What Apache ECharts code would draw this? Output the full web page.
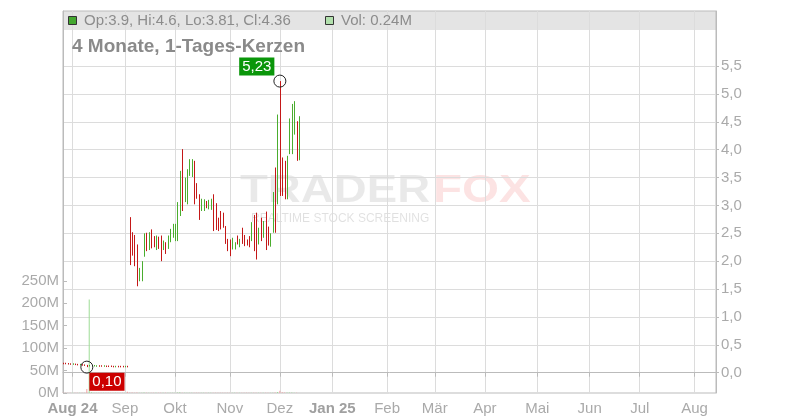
<!DOCTYPE html>
<html><head><meta charset="utf-8">
<script src="https://cdn.jsdelivr.net/npm/echarts@6/dist/echarts.min.js"></script>
<style>html,body{margin:0;padding:0;background:#fff}#c{width:800px;height:420px}</style>
</head><body><div id="c"></div>
<script>
// ---------- data ----------
const histStart = '2024-07-26';   // first candle (weekdays follow sequentially)
const axisEnd = '2025-08-14';     // last weekday shown on the axis
const highs = [
 .17,.17,.165,.16,.16,.155,.15,.15,.145,.14,.14,.13,.13,.13,.125,.125,.125,.125,.12,.12,.12,.115,.115,.115,.115,.115,.115,.115,
 2.79,2.52,2.47,2.30,1.88,2.00,2.50,2.51,2.52,2.57,2.45,2.46,2.44,2.46,2.37,2.34,2.46,2.58,2.67,2.67,
 3.06,3.62,4.01,3.50,3.65,3.83,3.83,3.80,3.40,3.20,3.12,3.11,3.08,3.10,3.12,3.20,3.04,2.78,2.90,2.87,2.63,2.40,2.39,
 2.42,2.34,2.46,2.40,2.60,2.47,2.39,2.45,2.70,2.83,2.87,2.60,2.78,2.72,2.89,2.62,2.50,3.24,3.68,4.63,
 5.23,3.86,3.80,3.89,4.56,4.82,4.87,4.51,4.60];
const lows = [
 .16,.16,.155,.15,.15,.145,.14,.14,.135,.13,.10,.12,.12,.12,.115,.115,.115,.115,.11,.11,.11,.105,.105,.105,.105,.105,.105,.105,
 1.93,2.10,1.91,1.55,1.64,1.64,2.08,2.18,2.20,2.23,2.25,2.20,2.22,2.00,2.20,2.13,2.22,2.34,2.42,2.36,
 2.36,2.81,2.90,3.06,3.02,3.53,3.51,3.02,3.12,2.74,2.90,2.90,2.95,2.93,2.92,2.54,2.56,2.54,2.57,2.60,2.31,2.18,2.09,
 2.21,2.21,2.30,2.25,2.31,2.27,2.28,2.25,2.36,2.18,2.03,2.30,2.36,2.42,2.20,2.28,2.26,2.51,2.51,3.02,
 3.17,3.17,3.11,3.11,3.92,3.92,4.27,3.80,3.81];
// 1 = rising candle (green), 0 = falling candle (red)
const rising = [
 0,0,0,0,1,0,0,1,0,0,0,1,1,1,1,0,0,1,0,0,0,0,1,0,0,0,1,0,
 0,0,0,0,1,1,1,0,1,0,0,1,0,0,1,0,1,1,1,1,
 1,1,0,1,1,1,1,0,0,0,1,1,0,1,1,0,0,0,0,0,0,0,0,
 1,1,0,1,0,0,0,0,1,0,0,1,0,1,0,0,1,1,0,1,
 0,0,0,1,1,1,1,0,1];
// volumes in millions
const volumes = [
 .6,.5,.4,.5,.4,.5,.6,.5,.4,.6,9,208,1.5,.8,.6,.5,.5,.4,.5,.4,.4,.5,.4,.4,.5,.4,.6,3,
 1.2,.9,.8,.9,.6,.7,.9,.6,.5,.6,.5,.5,.6,.4,.5,.5,.6,.6,.5,.8,
 1.2,1.5,.8,.7,.6,.5,.8,.6,.7,.4,.5,.5,.5,.5,.5,.5,.4,.3,.4,.6,.5,.4,.4,
 .4,.5,.5,.5,.4,.3,.4,.5,.4,.3,.5,.6,.7,.5,.4,.6,.4,.8,1.2,2.5,
 5,1.5,1.0,.9,1.1,.9,.7,.5,.24];
const lastOpen = 3.9, lastClose = 4.36;
const monthNames = ['Jan','Feb','Mär','Apr','Mai','Jun','Jul','Aug','Sep','Okt','Nov','Dez'];
const priceTicks = [0,0.5,1,1.5,2,2.5,3,3.5,4,4.5,5,5.5];
const volumeTicks = [0,50,100,150,200,250];
const titleText = '4 Monate, 1-Tages-Kerzen';

// ---------- build ----------
function weekdays(a, b) {
  const out = [];
  let d = new Date(a + 'T00:00:00Z');
  const e = new Date(b + 'T00:00:00Z');
  while (d <= e) {
    const w = d.getUTCDay();
    if (w !== 0 && w !== 6) out.push(d.toISOString().slice(0, 10));
    d = new Date(d.getTime() + 86400000);
  }
  return out;
}
const cats = weekdays(histStart, axisEnd);
const n = highs.length;
const candles = [], vols = [];
for (let i = 0; i < n; i++) {
  const h = highs[i], l = lows[i], r = (h - l);
  let o, c;
  if (i === n - 1) { o = lastOpen; c = lastClose; }
  else if (rising[i]) { o = l + r * 0.2; c = h - r * 0.2; }
  else { o = h - r * 0.2; c = l + r * 0.2; }
  candles.push([i, +o.toFixed(3), +c.toFixed(3), l, h]);
  vols.push({ value: volumes[i], itemStyle: { color: rising[i] ? '#9ddc95' : '#f2a0a0' } });
}
const isMonthStart = (i) => i > 0 && cats[i].slice(5, 7) !== cats[i - 1].slice(5, 7);
const fmtPrice = (v) => v.toFixed(1).replace('.', ',');
const fmtPrice2 = (v) => (+v).toFixed(2).replace('.', ',');
const last = n - 1;
const legendText = 'Op:' + lastOpen + ', Hi:' + highs[last] + ', Lo:' + lows[last] + ', Cl:' + lastClose;
const volText = 'Vol: ' + volumes[last] + 'M';
const UP = '#4aad2e', DOWN = '#c41818';

function renderCandle(params, api) {
  const xi = api.value(0);
  const top = api.coord([xi, api.value(4)]);
  const bot = api.coord([xi, api.value(3)]);
  const x = Math.round(top[0]) + 0.5;
  let y1 = top[1], y2 = bot[1];
  if (y2 - y1 < 1.5) { const m = (y1 + y2) / 2; y1 = m - 0.75; y2 = m + 0.75; }
  const up = api.value(2) >= api.value(1);
  return { type: 'line', shape: { x1: x, y1: y1, x2: x, y2: y2 }, style: { stroke: up ? UP : DOWN, lineWidth: 1 } };
}

const FONT = '"Liberation Sans", Arial, sans-serif';
const chart = echarts.init(document.getElementById('c'), null, { renderer: 'canvas' });
chart.setOption({
  animation: false,
  textStyle: { fontFamily: FONT },
  grid: { left: 63, right: 84, top: 11, bottom: 27, show: true, borderColor: '#bbb', borderWidth: 1, backgroundColor: 'transparent' },
  xAxis: {
    type: 'category', data: cats, boundaryGap: false,
    axisLine: { lineStyle: { color: '#bbb' } },
    axisTick: { interval: (i) => isMonthStart(i), length: 4, lineStyle: { color: '#bbb' } },
    axisLabel: {
      interval: (i) => isMonthStart(i), color: '#aaa', fontSize: 15, margin: 8, fontFamily: FONT,
      formatter: (v) => {
        const y = +v.slice(0, 4), m = +v.slice(5, 7) - 1;
        if (m === 0 || (y === 2024 && m === 7)) return '{b|' + monthNames[m] + ' ' + String(y).slice(2) + '}';
        return monthNames[m];
      },
      rich: { b: { fontWeight: 'bold', color: '#a0a0a0', fontSize: 15, fontFamily: FONT } }
    },
    splitLine: { show: true, interval: (i) => isMonthStart(i), lineStyle: { color: '#dcdcdc' } }
  },
  yAxis: [
    {
      type: 'value', position: 'right', min: -0.364, max: 6.487,
      axisLine: { show: true, lineStyle: { color: '#bbb' } },
      axisTick: { show: true, customValues: priceTicks, length: 3, lineStyle: { color: '#bbb' } },
      axisLabel: { customValues: priceTicks, formatter: fmtPrice, color: '#aaa', fontSize: 15, margin: 5, fontFamily: FONT },
      splitLine: { show: true, lineStyle: { color: '#dcdcdc' } }
    },
    {
      type: 'value', position: 'left', min: 0, max: 850.8,
      axisLine: { show: true, lineStyle: { color: '#bbb' } },
      axisTick: { show: true, inside: true, customValues: volumeTicks, length: 4, lineStyle: { color: '#bbb' } },
      axisLabel: { customValues: volumeTicks, formatter: (v) => v + 'M', color: '#aaa', fontSize: 15, margin: 4, fontFamily: FONT },
      splitLine: { show: false }
    }
  ],
  graphic: [
    { type: 'rect', z: -10, shape: { x: 63, y: 11, width: 653, height: 19 }, style: { fill: '#e4e4e4' } },
    { type: 'text', z: -5, x: 240, y: 191, scaleX: 1.17, style: { text: 'TRADER', font: 'bold 39px ' + FONT, fill: 'rgba(0,0,0,0.085)', textVerticalAlign: 'middle' } },
    { type: 'text', z: -5, x: 433, y: 191, scaleX: 1.22, style: { text: 'FOX', font: 'bold 39px ' + FONT, fill: 'rgba(235,60,60,0.14)', textVerticalAlign: 'middle' } },
    { type: 'text', z: -5, x: 251, y: 219, style: { text: 'REALTIME STOCK SCREENING', font: '12px ' + FONT, fill: 'rgba(0,0,0,0.12)', textVerticalAlign: 'middle' } },
    { type: 'rect', z: 10, shape: { x: 68.5, y: 16.5, width: 8, height: 8 }, style: { fill: '#44a830', stroke: '#333', lineWidth: 1 } },
    { type: 'text', z: 10, x: 84, y: 21, style: { text: legendText, font: '15px ' + FONT, fill: '#8c8c8c', textVerticalAlign: 'middle' } },
    { type: 'rect', z: 10, shape: { x: 325.5, y: 16.5, width: 8, height: 8 }, style: { fill: '#b2e0ad', stroke: '#333', lineWidth: 1 } },
    { type: 'text', z: 10, x: 341, y: 21, style: { text: volText, font: '15px ' + FONT, fill: '#8c8c8c', textVerticalAlign: 'middle' } },
    { type: 'text', z: 10, x: 72, y: 47, style: { text: titleText, font: 'bold 19px ' + FONT, fill: '#8a8a8a', textVerticalAlign: 'middle' } }
  ],
  series: [
    {
      type: 'bar', yAxisIndex: 1, data: vols, barWidth: 1, z: 1
    },
    {
      type: 'custom', yAxisIndex: 0, data: candles, z: 3,
      dimensions: ['idx', 'open', 'close', 'lowest', 'highest'],
      encode: { x: 0, y: [1, 2, 3, 4] },
      renderItem: renderCandle,
      markPoint: {
        symbol: 'circle', symbolSize: 12,
        itemStyle: { color: 'rgba(0,0,0,0)', borderColor: '#222', borderWidth: 1 },
        data: [
          { type: 'max', valueDim: 'highest',
            label: { show: true, formatter: (p) => fmtPrice2(p.value), position: [1, 1], align: 'right', verticalAlign: 'bottom',
                     backgroundColor: '#0a960a', color: '#fff', fontSize: 15, padding: [2, 3, 1, 3], fontFamily: FONT } },
          { type: 'min', valueDim: 'lowest',
            label: { show: true, formatter: (p) => fmtPrice2(p.value), position: [9, 12], align: 'left', verticalAlign: 'top',
                     backgroundColor: '#cc0000', color: '#fff', fontSize: 15, padding: [2, 3, 1, 3], fontFamily: FONT } }
        ]
      }
    }
  ]
});
</script>
</body></html>
